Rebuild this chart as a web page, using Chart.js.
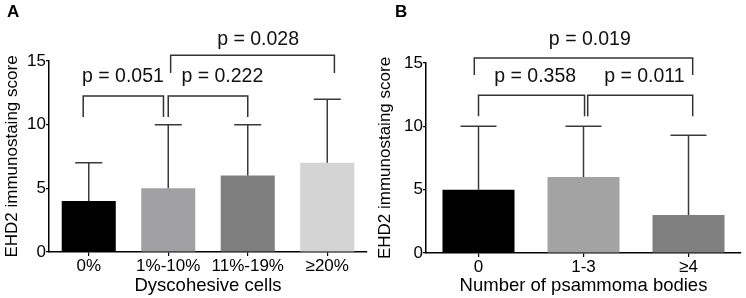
<!DOCTYPE html>
<html>
<head>
<meta charset="utf-8">
<script src="https://cdn.jsdelivr.net/npm/chart.js@4/dist/chart.umd.min.js"></script>
<style>
  html, body { margin: 0; padding: 0; background: #fff; }
  #wrap { position: relative; width: 746px; height: 298px; }
  canvas { position: absolute; top: 0; }
</style>
</head>
<body>
<div id="wrap">
  <canvas id="chartA" width="373" height="298" style="left:0"></canvas>
  <canvas id="chartB" width="373" height="298" style="left:373px"></canvas>
</div>
<script>
// panel A
const dyscohesiveLabels = ["0%", "1%-10%", "11%-19%", "≥20%"];
const dyscohesiveMeans = [4, 5, 6, 7];
const dyscohesiveUpper = [7, 10, 10, 12];
const dyscohesiveColors = ["#000000", "#a1a1a4", "#7e7e7e", "#d4d4d4"];
const dyscohesiveBrackets = [
  { from: -0.07, to: 0.94, top: 12.25, leg: 10.6, p: "p = 0.051", labelAt: 0.43, labelY: 13.35 },
  { from: 1.0, to: 2.0, top: 12.25, leg: 10.6, p: "p = 0.222", labelAt: 1.68, labelY: 13.35 },
  { from: 1.03, to: 3.09, top: 15.45, leg: 14.05, p: "p = 0.028", labelAt: 2.13, labelY: 16.25 }
];

// panel B
const psammomaLabels = ["0", "1-3", "≥4"];
const psammomaMeans = [5, 6, 3];
const psammomaUpper = [10, 10, 9.3];
const psammomaColors = ["#000000", "#a3a3a3", "#808080"];
const psammomaBrackets = [
  { from: 0.0, to: 1.01, top: 12.45, leg: 10.8, p: "p = 0.358", labelAt: 0.54, labelY: 13.5 },
  { from: 1.04, to: 2.04, top: 12.45, leg: 10.8, p: "p = 0.011", labelAt: 1.58, labelY: 13.5 },
  { from: -0.04, to: 2.04, top: 15.4, leg: 14.05, p: "p = 0.019", labelAt: 1.06, labelY: 16.4 }
];

const yMax = 15;
const yStep = 5;
const FONT = '"Liberation Sans", Arial, sans-serif';

const errorAndBrackets = {
  id: "errorAndBrackets",
  afterDatasetsDraw(chart) {
    const opts = chart.options.plugins.errorAndBrackets;
    const x = chart.scales.x, y = chart.scales.y;
    const c = chart.ctx;
    const bars = chart.getDatasetMeta(0).data;
    c.save();
    c.strokeStyle = "#3a3a3a";
    c.lineWidth = 1.5;
    opts.upper.forEach((v, i) => {
      const bx = bars[i].x;
      const half = bars[i].width / 4;
      const yTop = y.getPixelForValue(v);
      const yBar = y.getPixelForValue(opts.means[i]);
      c.beginPath();
      c.moveTo(bx, yBar);
      c.lineTo(bx, yTop);
      c.moveTo(bx - half, yTop);
      c.lineTo(bx + half, yTop);
      c.stroke();
    });
    c.restore();
  },
  afterDraw(chart) {
    const opts = chart.options.plugins.errorAndBrackets;
    const x = chart.scales.x, y = chart.scales.y;
    const c = chart.ctx;
    c.save();
    c.strokeStyle = "#333";
    c.lineWidth = 1.5;
    c.fillStyle = "#111";
    c.font = "19.5px " + FONT;
    c.textAlign = "center";
    c.textBaseline = "alphabetic";
    opts.brackets.forEach(b => {
      const x1 = x.getPixelForValue(b.from), x2 = x.getPixelForValue(b.to);
      const yt = y.getPixelForValue(b.top), yl = y.getPixelForValue(b.leg);
      c.beginPath();
      c.moveTo(x1, yl);
      c.lineTo(x1, yt);
      c.lineTo(x2, yt);
      c.lineTo(x2, yl);
      c.stroke();
      c.fillText(b.p, x.getPixelForValue(b.labelAt), y.getPixelForValue(b.labelY));
    });
    c.font = "bold 17px " + FONT;
    c.textAlign = "left";
    c.fillStyle = "#000";
    c.fillText(opts.letter, opts.letterX, 17);
    c.restore();
  }
};

function makeChart(id, cfg) {
  return new Chart(document.getElementById(id), {
    type: "bar",
    data: {
      labels: cfg.labels,
      datasets: [{
        data: cfg.means,
        backgroundColor: cfg.colors,
        borderWidth: 0,
        categoryPercentage: 1,
        barPercentage: cfg.barPct
      }]
    },
    options: {
      responsive: false,
      animation: false,
      devicePixelRatio: 1,
      layout: { padding: { top: cfg.top, right: cfg.right, left: 0, bottom: 0 } },
      plugins: {
        legend: { display: false },
        tooltip: { enabled: false },
        errorAndBrackets: {
          means: cfg.means,
          upper: cfg.upper,
          brackets: cfg.brackets,
          letter: cfg.letter,
          letterX: cfg.letterX
        }
      },
      scales: {
        x: {
          afterFit: s => { s.height = cfg.xHeight; },
          grid: { offset: false, drawOnChartArea: false, drawTicks: true, tickLength: 4, color: "#000", lineWidth: 1.2 },
          border: { display: true, color: "#000", width: 1.5 },
          ticks: { color: "#000", font: { family: FONT, size: 17 }, padding: 0, maxRotation: 0, autoSkip: false },
          title: { display: true, text: cfg.xTitle, color: "#000", font: { family: FONT, size: 18.5 }, padding: { top: 0, bottom: 1 } }
        },
        y: {
          min: 0,
          max: yMax,
          afterFit: s => { s.width = cfg.yWidth; },
          grid: { drawOnChartArea: false, drawTicks: true, tickLength: 3, color: "#000", lineWidth: 1.2 },
          border: { display: true, color: "#000", width: 1.5 },
          ticks: { stepSize: yStep, color: "#000", font: { family: FONT, size: 17 }, padding: 0 },
          title: { display: true, text: "EHD2 immunostaing score", color: "#000", font: { family: FONT, size: 17 }, padding: { top: 2, bottom: 0 } }
        }
      }
    },
    plugins: [errorAndBrackets]
  });
}

makeChart("chartA", {
  labels: dyscohesiveLabels, means: dyscohesiveMeans, upper: dyscohesiveUpper,
  colors: dyscohesiveColors, brackets: dyscohesiveBrackets,
  xTitle: "Dyscohesive cells", letter: "A", letterX: 7,
  barPct: 0.68, top: 61, right: 6, xHeight: 46, yWidth: 49
});

makeChart("chartB", {
  labels: psammomaLabels, means: psammomaMeans, upper: psammomaUpper,
  colors: psammomaColors, brackets: psammomaBrackets,
  xTitle: "Number of psammoma bodies", letter: "B", letterX: 22,
  barPct: 0.686, top: 63, right: 5, xHeight: 45, yWidth: 53
});
</script>
</body>
</html>
